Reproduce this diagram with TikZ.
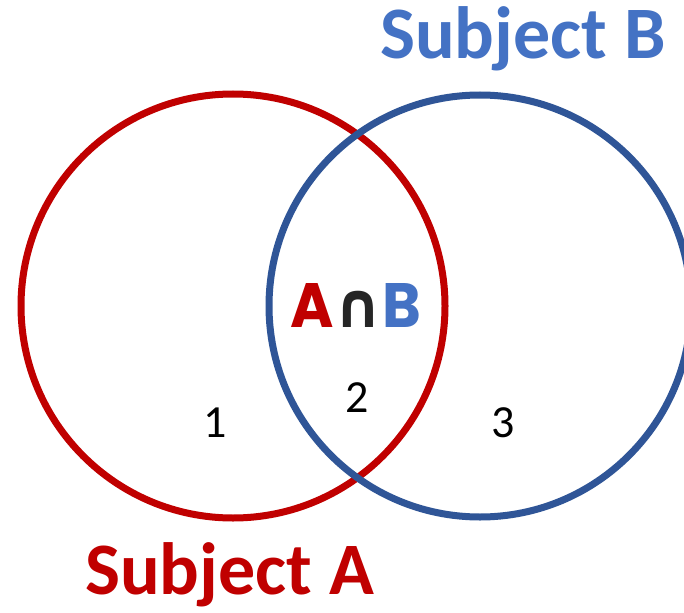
\documentclass[tikz,border=0pt]{standalone}
\usepackage{fontspec}
\setmainfont{Carlito}
\newfontfamily\capfont{DejaVu Sans}
\newfontfamily\popfont{Poppins}
\usepackage{graphicx}
\definecolor{subjred}{HTML}{C00000}
\definecolor{circblue}{HTML}{2F5597}
\definecolor{textblue}{HTML}{4472C4}
\definecolor{capdark}{HTML}{262626}
\tikzset{
  ring/.style={line width=7pt},
  title/.style={inner sep=0pt, anchor=base west, font=\bfseries\fontsize{74}{80}\selectfont},
  region/.style={inner sep=0pt, anchor=center, font=\fontsize{46}{50}\selectfont, text=black}
}
\begin{document}
\begin{tikzpicture}[x=1pt,y=-1pt]
\useasboundingbox (0,0) rectangle (684,612);
\clip (0,0) rectangle (684,612);
\fill[white] (0,0) rectangle (684,612);
\draw[ring, subjred] (233,306) circle[radius=212];
\draw[ring, circblue] (480,306) circle[radius=211];
\node[title, text=textblue] (titleB) at (380,59) {Subject B};
\node[title, text=subjred] (titleA) at (85,594) {Subject A};
\node[inner sep=0pt] (inter) at (356,305) {\resizebox{130pt}{44pt}{\popfont\bfseries\textcolor{subjred}{A}{\capfont\textcolor{capdark}{∩}}\textcolor{textblue}{B}}};
\node[region] (r1) at (215,423) {1};
\node[region] (r2) at (357,398) {2};
\node[region] (r3) at (503,423) {3};
\end{tikzpicture}
\end{document}
